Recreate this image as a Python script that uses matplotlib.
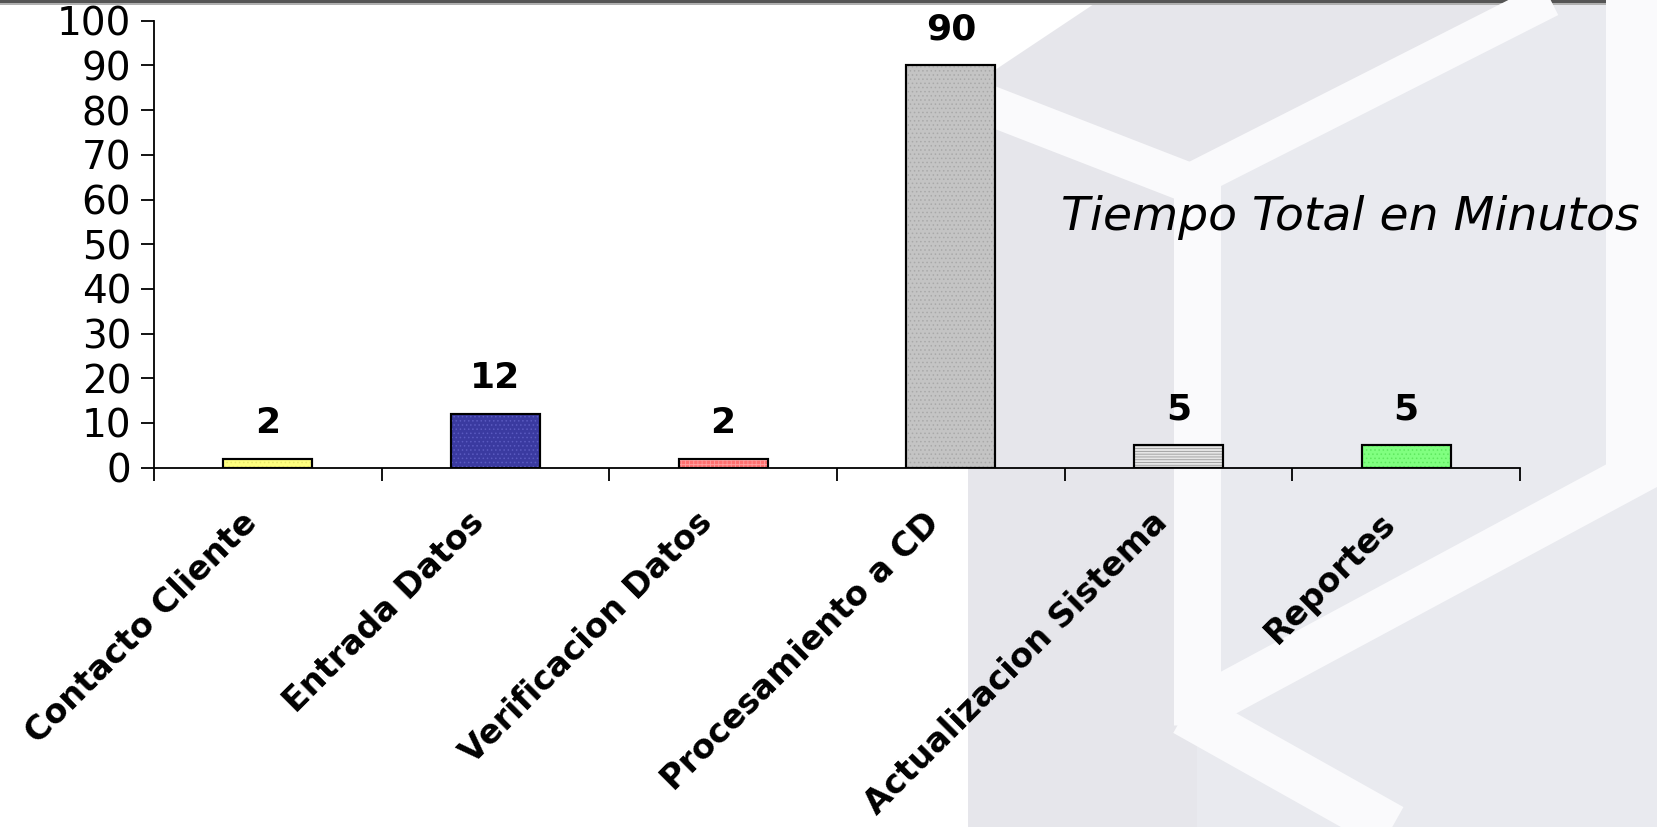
import numpy as np
import matplotlib
matplotlib.use("Agg")
import matplotlib.pyplot as plt
from matplotlib.patches import Polygon, Rectangle

# ---- data ----
categories = ["Contacto Cliente", "Entrada Datos", "Verificacion Datos",
              "Procesamiento a CD", "Actualizacion Sistema", "Reportes"]
minutes = [2, 12, 2, 90, 5, 5]
yticks = list(range(0, 101, 10))
title_text = "Tiempo Total en Minutos"

# ---- styles ----
face_colors = ["#ffff80", "#3a3aa0", "#ff7070", "#c4c4c4", "#e6e6e6", "#80ff80"]
hatch_colors = ["#e8e86a", "#5a5ac0", "#ffa0a0", "#a9a9a9", "#9a9a9a", "#5fe85f"]
hatches = ["....", "....", "++++", "....", "------", "...."]

plt.rcParams["hatch.linewidth"] = 0.6
W, H = 1658, 827
px = 0.72  # points per pixel at dpi 100
fig = plt.figure(figsize=(W / 100, H / 100), dpi=100, facecolor="white")

# ---- decorative background (pixel coords) ----
bg = fig.add_axes([0, 0, 1, 1], zorder=0)
bg.set_xlim(0, W)
bg.set_ylim(H, 0)
bg.axis("off")
bg.add_patch(Polygon([(968, 827), (968, 88), (1100, 0), (1658, 0), (1658, 827)],
                     closed=True, facecolor="#e6e6eb", edgecolor="none"))
bg.add_patch(Polygon([(1197, 180), (1560, 0), (1658, 0), (1658, 827), (1197, 827)],
                     closed=True, facecolor="#e9eaef", edgecolor="none"))
band = "#fafafc"
bg.plot([960, 1197], [94, 186], color=band, lw=40 * px, solid_capstyle="butt")
bg.plot([1197, 1560], [178, -6], color=band, lw=36 * px, solid_capstyle="butt")
bg.plot([1197, 1197], [170, 725], color=band, lw=47 * px, solid_capstyle="butt")
bg.plot([1185, 1670], [716, 455], color=band, lw=44 * px, solid_capstyle="butt")
bg.plot([1185, 1520], [712, 900], color=band, lw=48 * px, solid_capstyle="butt")
bg.plot([1632, 1632], [0, 470], color=band, lw=52 * px, solid_capstyle="butt")
bg.add_patch(Rectangle((0, 0), W, 3, facecolor="#555555", edgecolor="none"))
bg.add_patch(Rectangle((0, 3), W, 2, facecolor="#b0b0b0", edgecolor="none"))

# ---- main chart ----
left, right = 154 / W, 1520 / W
bottom, top = 1 - 467.7 / H, 1 - 20.7 / H
ax = fig.add_axes([left, bottom, right - left, top - bottom], zorder=1)
ax.set_facecolor("none")

x = np.arange(len(categories))
width = 0.39
ax.bar(x, minutes, width, color=face_colors, edgecolor="black", linewidth=1.5, zorder=2)
for xi, v, hc, h in zip(x, minutes, hatch_colors, hatches):
    ax.bar(xi, v, width, color="none", edgecolor=hc, hatch=h, linewidth=0, zorder=3)
ax.bar(x, minutes, width, color="none", edgecolor="black", linewidth=1.5, zorder=4)

for xi, v in zip(x, minutes):
    ax.annotate(str(v), (xi, v), xytext=(0, 36 * px), textcoords="offset points",
                ha="center", va="center", fontsize=26, fontweight="bold")

ax.set_xlim(-0.5, len(categories) - 0.5)
ax.set_ylim(0, 100)
ax.set_yticks(yticks)
ax.tick_params(axis="y", direction="out", length=9.4, width=1.3, pad=7, labelsize=28)

# category labels (rotated) placed below the axis
ax.set_xticks([])
for xi, cat in zip(x, categories):
    ax.annotate(cat, (xi, 0), xytext=(-16 * px, -50 * px), textcoords="offset points",
                rotation=45, ha="right", va="center", rotation_mode="anchor",
                fontsize=24, fontweight="bold", annotation_clip=False)
ax.set_xticks(np.arange(-0.5, len(categories), 1), minor=True)
ax.tick_params(axis="x", which="minor", direction="out", length=9, width=1.3)

for s in ["top", "right"]:
    ax.spines[s].set_visible(False)
for s in ["left", "bottom"]:
    ax.spines[s].set_linewidth(1.3)

fig.text(1061 / W, 1 - 217 / H, title_text, ha="left", va="center",
         fontsize=34, style="italic")

fig.savefig("out.png", dpi=100, facecolor="white")
